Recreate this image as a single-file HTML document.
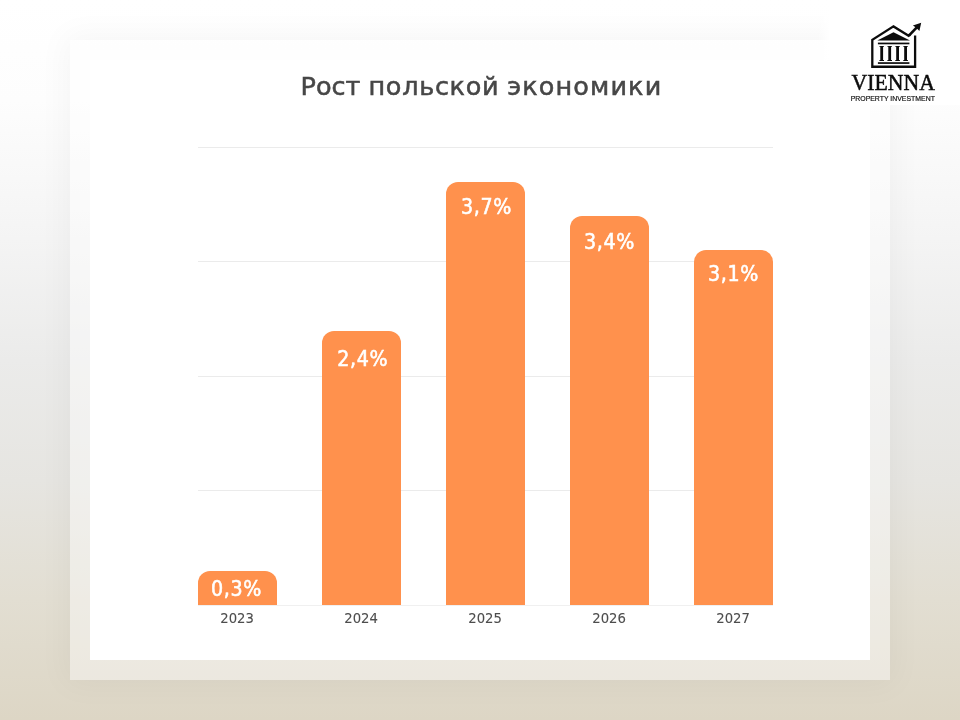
<!DOCTYPE html>
<html lang="ru">
<head>
<meta charset="utf-8">
<title>Рост польской экономики</title>
<style>
*{margin:0;padding:0;box-sizing:border-box}
html,body{width:960px;height:720px;overflow:hidden}
body{position:relative;font-family:"Liberation Sans",sans-serif;
background:linear-gradient(180deg,#ffffff 0%,#fdfdfd 14%,#f4f4f4 33.3%,#ebebea 50%,#e6e5e1 66.7%,#e2ded2 83.3%,#ddd6c5 100%);}
#outer{position:absolute;left:70px;top:40px;width:819.5px;height:639.5px;background:rgba(255,255,255,.41);box-shadow:0 0 30px 5px rgba(0,0,0,.035)}
#inner{position:absolute;left:90px;top:59.5px;width:779.5px;height:600.5px;background:#fff}
h1{position:absolute;left:0;width:960px;top:0;height:0;font-family:"DejaVu Sans","Liberation Sans",sans-serif;font-size:25.5px;font-weight:400;color:#474747;-webkit-text-stroke:.55px #474747;white-space:nowrap}
h1 span{position:absolute;top:68px;line-height:36px}
.g{position:absolute;left:197.5px;width:575.5px;height:1px;background:#ebebeb}
.bar{position:absolute;width:79.5px;background:#ff914d;border-radius:12px 12px 0 0}
.v{position:absolute;font-stretch:condensed;color:#fff;white-space:nowrap;line-height:26px;font-family:"DejaVu Sans Condensed","DejaVu Sans","Liberation Sans",sans-serif;font-size:21.2px;letter-spacing:.65px;-webkit-text-stroke:.55px #fff}
.yr{position:absolute;font-stretch:condensed;width:79.2px;text-align:center;top:609px;-webkit-text-stroke:.1px #4d4d4d;font-family:"DejaVu Sans Condensed","DejaVu Sans","Liberation Sans",sans-serif;font-size:14.7px;color:#4d4d4d}
#logo{position:absolute;left:840px;top:10px;width:110px;height:100px}
#logobg{position:absolute;left:818px;top:0;width:142px;height:105px;background:linear-gradient(90deg,rgba(255,255,255,0) 0,#fff 12px,#fff 100%)}
</style>
</head>
<body>
<div id="outer"></div>
<div id="inner"></div>
<h1><span style="left:300.5px;letter-spacing:0">Рост</span> <span style="left:368.5px;letter-spacing:.7px">польской</span> <span style="left:507.2px;letter-spacing:1.12px">экономики</span></h1>
<div class="g" style="top:147px"></div>
<div class="g" style="top:261px"></div>
<div class="g" style="top:376px"></div>
<div class="g" style="top:490px"></div>
<div class="g" style="top:605px;background:#f0f0f0"></div>

<div class="bar" style="left:197.7px;top:571px;height:34px"></div>
<div class="bar" style="left:321.8px;top:330.5px;height:274.5px"></div>
<div class="bar" style="left:445.8px;top:181.8px;height:423.2px"></div>
<div class="bar" style="left:569.8px;top:216px;height:389px"></div>
<div class="bar" style="left:693.8px;top:250.4px;height:354.6px"></div>

<div class="v" style="left:211.1px;top:575.8px">0,3%</div>
<div class="v" style="left:337.2px;top:346px">2,4%</div>
<div class="v" style="left:461.1px;top:193.8px">3,7%</div>
<div class="v" style="left:584px;top:229px">3,4%</div>
<div class="v" style="left:708px;top:261.4px">3,1%</div>

<div class="yr" style="left:197.5px">2023</div>
<div class="yr" style="left:321.5px">2024</div>
<div class="yr" style="left:445.5px">2025</div>
<div class="yr" style="left:569.5px">2026</div>
<div class="yr" style="left:693.5px">2027</div>

<div id="logobg"></div>
<svg id="logo" viewBox="0 0 110 100">
<path d="M75.1 25.6 V56.75 H32.3 V29.9 L53.5 16.4 L68.6 25.8 L70 24.4" fill="none" stroke="#0c0c0c" stroke-width="2.3" stroke-linejoin="miter" stroke-linecap="butt"/>
<path d="M68.9 25.6 L77.3 16.9" fill="none" stroke="#0c0c0c" stroke-width="2.7"/>
<path d="M81.2 12.8 L79.4 21 L76.9 18.4 L75.2 17 L72.9 15.4 Z" fill="#0c0c0c"/>
<path d="M37.3 30.6 L53.5 22.2 L70 30.6 Z" fill="#0c0c0c"/>
<rect x="37.9" y="32.6" width="31.5" height="1.7" fill="#0c0c0c"/>
<rect x="37.9" y="52.2" width="31.5" height="1.7" fill="#0c0c0c"/>
<g fill="#0c0c0c">
<path d="M39.4 35.9h4.6v.9h-.9v13.2h.9v.9h-4.6v-.9h.9v-13.2h-.9z"/>
<path d="M47.4 35.9h4.6v.9h-.9v13.2h.9v.9h-4.6v-.9h.9v-13.2h-.9z"/>
<path d="M55.3 35.9h4.6v.9h-.9v13.2h.9v.9h-4.6v-.9h.9v-13.2h-.9z"/>
<path d="M63.3 35.9h4.6v.9h-.9v13.2h.9v.9h-4.6v-.9h.9v-13.2h-.9z"/>
</g>
<text x="53.2" y="80.2" text-anchor="middle" font-family="Liberation Serif, serif" font-size="23.3" fill="#0c0c0c" stroke="#0c0c0c" stroke-width=".5" textLength="83.3" lengthAdjust="spacingAndGlyphs">VIENNA</text>
<text x="52.8" y="91.1" text-anchor="middle" font-family="Liberation Sans, sans-serif" font-size="6.4" fill="#111" stroke="#111" stroke-width=".17" textLength="84.2" lengthAdjust="spacingAndGlyphs">PROPERTY INVESTMENT</text>
</svg>
</body>
</html>
